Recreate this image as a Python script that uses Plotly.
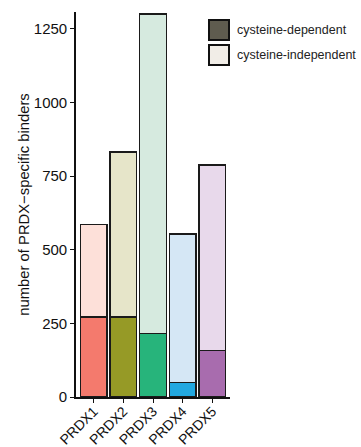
import plotly.graph_objects as go

categories = ["PRDX1", "PRDX2", "PRDX3", "PRDX4", "PRDX5"]
dependent = [271, 272, 216, 49, 158]
totals = [585, 832, 1300, 554, 788]
independent = [t - d for t, d in zip(totals, dependent)]
dep_colors = ["#F47A6D", "#969A26", "#27B47B", "#22A8E0", "#A86CAE"]
indep_colors = ["#FDE0D9", "#E6E5C9", "#D6EADF", "#D5E7F5", "#E8D9EB"]
legend_labels = ["cysteine-dependent", "cysteine-independent"]
legend_colors = ["#5F5C4F", "#F1EDE7"]
y_ticks = [0, 250, 500, 750, 1000, 1250]

W, H = 361, 447
L, T = 76, 12
pw, ph = 154, 385
R = W - L - pw
B = H - T - ph
FONT = "Liberation Sans, Arial, Helvetica, sans-serif"

fig = go.Figure()
fig.add_trace(go.Bar(x=categories, y=dependent, marker=dict(color=dep_colors, line=dict(color="#1a1a1a", width=1.4)),
                     showlegend=False, hoverinfo="x+y"))
fig.add_trace(go.Bar(x=categories, y=independent, marker=dict(color=indep_colors, line=dict(color="#1a1a1a", width=1.4)),
                     showlegend=False, hoverinfo="x+y"))

def px(x):
    return (x - L) / pw
def py(y):
    return 1 - (y - T) / ph

shapes = []
annotations = []
for i, (lab, col) in enumerate(zip(legend_labels, legend_colors)):
    y0 = 20 + i * 25
    shapes.append(dict(type="rect", xref="paper", yref="paper", x0=px(209), x1=px(229), y0=py(y0), y1=py(y0 + 20),
                       fillcolor=col, line=dict(color="#111111", width=2)))
    annotations.append(dict(xref="paper", yref="paper", x=px(235), y=py(y0 + 10), text=lab, showarrow=False,
                            xanchor="left", yanchor="middle", font=dict(size=12.5, color="#222", family=FONT)))

fig.update_layout(
    width=W, height=H,
    margin=dict(l=L, r=R, t=T, b=B),
    barmode="stack", bargap=0.1,
    plot_bgcolor="white", paper_bgcolor="white",
    font=dict(family=FONT, color="#111"),
    shapes=shapes, annotations=annotations,
    xaxis=dict(range=[-0.6, 4.6], showline=True, linecolor="#111", linewidth=1.6, ticks="outside", ticklen=4,
               tickcolor="#111", tickangle=-45, tickfont=dict(size=14, color="#111"), showgrid=False,
               automargin=False, ticklabelstandoff=-5),
    yaxis=dict(range=[0, 1307], tickvals=y_ticks, showline=True, linecolor="#111", linewidth=1.6, ticks="outside",
               ticklen=4, tickcolor="#111", tickfont=dict(size=15, color="#111"), showgrid=False, zeroline=False,
               automargin=False,
               title=dict(text="number of PRDX\u2212specific binders", font=dict(size=14.8, color="#111"), standoff=1)),
)
fig.write_html("out.html", config={"displayModeBar": False},
               post_script="document.body.style.margin='0';document.body.style.overflow='hidden';")
